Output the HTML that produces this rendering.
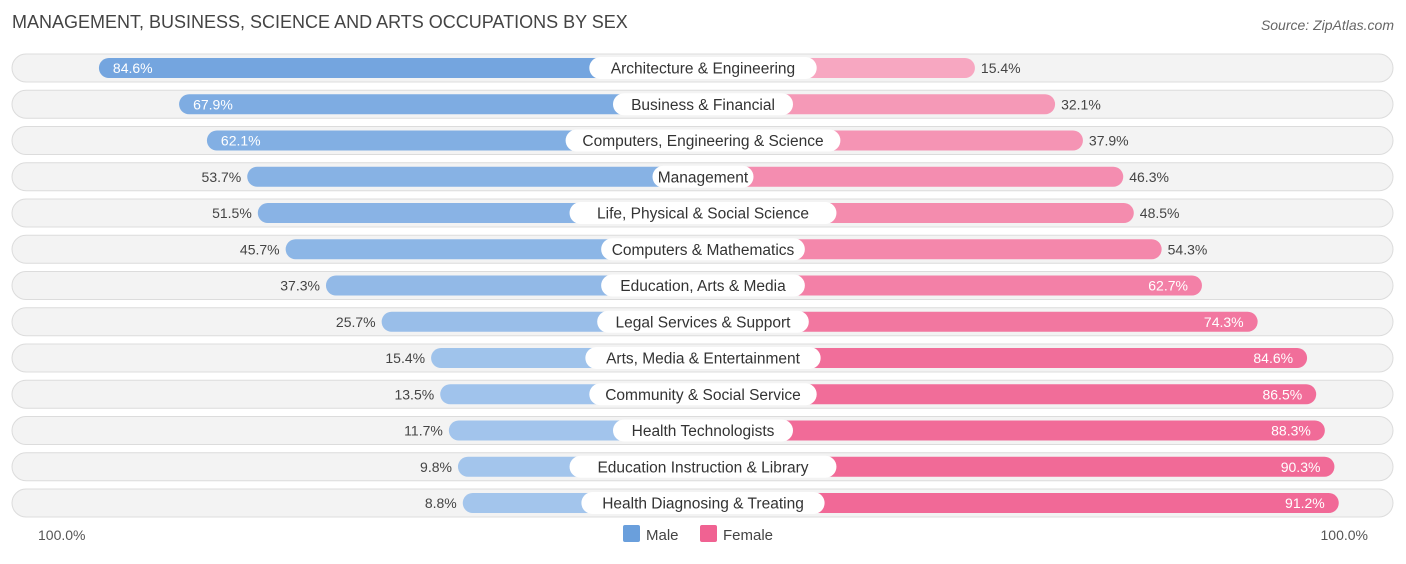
<!DOCTYPE html>
<html><head><meta charset="utf-8"><style>
body{margin:0;width:1406px;height:559px;background:#fff;font-family:"Liberation Sans",sans-serif;overflow:hidden}
</style></head><body>
<svg id="chart" width="1406" height="559" xmlns="http://www.w3.org/2000/svg" font-family="Liberation Sans, sans-serif">
<text x="12" y="28" font-size="18" fill="#444">MANAGEMENT, BUSINESS, SCIENCE AND ARTS OCCUPATIONS BY SEX</text>
<text x="1394" y="30" font-size="14" fill="#666" text-anchor="end" font-style="italic">Source: ZipAtlas.com</text>
<g id="rows"></g>
<text x="38" y="540" font-size="14" fill="#555">100.0%</text>
<text x="1368" y="540" font-size="14" fill="#555" text-anchor="end">100.0%</text>
<g>
<rect x="623" y="525" width="17" height="17" rx="2" fill="#6a9fdc"/>
<text x="646" y="540" font-size="15" fill="#444">Male</text>
<rect x="700" y="525" width="17" height="17" rx="2" fill="#f06292"/>
<text x="723" y="540" font-size="15" fill="#444">Female</text>
</g>
</svg>
<script>
const categories=["Architecture & Engineering","Business & Financial","Computers, Engineering & Science","Management","Life, Physical & Social Science","Computers & Mathematics","Education, Arts & Media","Legal Services & Support","Arts, Media & Entertainment","Community & Social Service","Health Technologists","Education Instruction & Library","Health Diagnosing & Treating"];
const maleValues=[84.6,67.9,62.1,53.7,51.5,45.7,37.3,25.7,15.4,13.5,11.7,9.8,8.8];
const femaleValues=[15.4,32.1,37.9,46.3,48.5,54.3,62.7,74.3,84.6,86.5,88.3,90.3,91.2];
const NS="http://www.w3.org/2000/svg";
const cx=703, off=198, k=4.8, y0=68, dy=36.25;
const len=v=>off+v*k;
function mix(a,b,t){const pa=a.match(/\w\w/g).map(h=>parseInt(h,16)),pb=b.match(/\w\w/g).map(h=>parseInt(h,16));return "rgb("+pa.map((c,i)=>Math.round(c+(pb[i]-c)*t)).join(",")+")";}
const g=document.getElementById('rows');
function mk(tag,attrs){const e=document.createElementNS(NS,tag);for(const a in attrs)e.setAttribute(a,attrs[a]);return e;}
categories.forEach((c,i)=>{
 const y=y0+i*dy;
 const row=mk('g',{});
 
 
 const tr=mk('rect',{x:12,y:y-14,width:1381,height:28,rx:14,fill:'#f3f3f3',stroke:'#dcdcdc'});
 
 
 row.appendChild(tr);
 const m=maleValues[i], f=femaleValues[i];
 const ml=len(m), fl=len(f);
 const mb=mk('rect',{x:cx-ml,y:y-10,width:ml,height:20,rx:10,fill:mix('a9c9ee','6a9fdc',m/100)});
 
 
 row.appendChild(mb);
 const fb=mk('rect',{x:cx,y:y-10,width:fl,height:20,rx:10,fill:mix('f8b3c9','f06292',f/100)});
 
 
 row.appendChild(fb);
 const lw=c.length*7.9+22;
 const lb=mk('rect',{x:cx-lw/2,y:y-11,width:lw,height:22,rx:11,fill:'#fff'});
 
 
 row.appendChild(lb);
 const lt=mk('text',{x:cx,y:y+5.5,'font-size':15.5,fill:'#333','text-anchor':'middle'});
 
 
 lt.textContent=c;row.appendChild(lt);
 const mIn=m>60;
 const mt=mk('text',{x:mIn?cx-ml+14:cx-ml-6,y:y+5,'font-size':14,fill:mIn?'#fff':'#444','text-anchor':mIn?'start':'end'});
 
 
 mt.textContent=m.toFixed(1)+'%';row.appendChild(mt);
 const fIn=f>60;
 const ft=mk('text',{x:fIn?cx+fl-14:cx+fl+6,y:y+5,'font-size':14,fill:fIn?'#fff':'#444','text-anchor':fIn?'end':'start'});
 
 
 ft.textContent=f.toFixed(1)+'%';row.appendChild(ft);
 g.appendChild(row);
});
</script>
</body></html>
